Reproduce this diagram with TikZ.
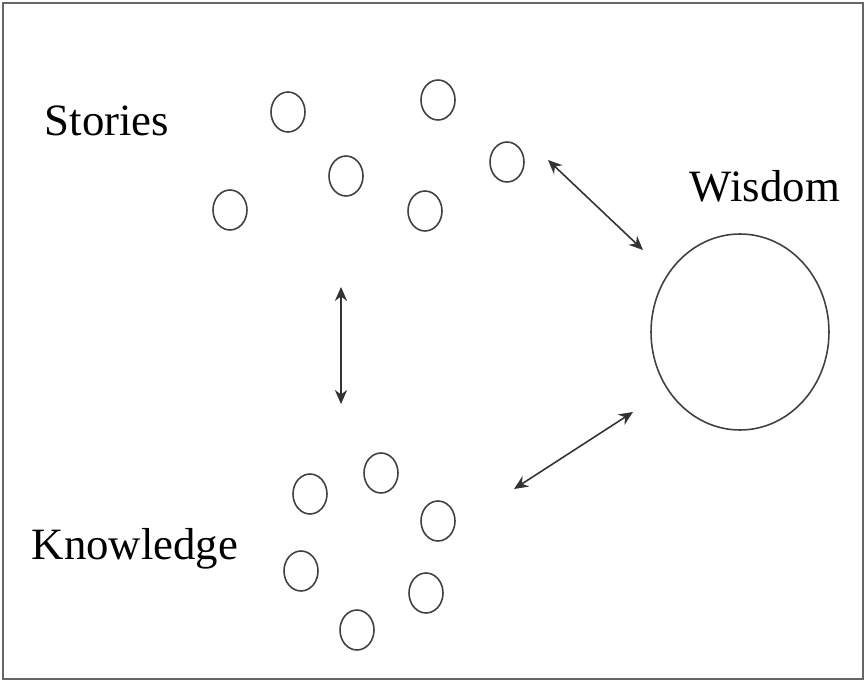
\documentclass[tikz,border=0pt]{standalone}
\usepackage{fontspec}
\setmainfont{Liberation Serif}
\usetikzlibrary{shapes.geometric,arrows.meta}
\begin{document}
\begin{tikzpicture}[x=0.02cm, y=-0.02cm,
    dot/.style={draw=black!75, ellipse, line width=0.9pt, inner sep=0pt, minimum width=0.68cm, minimum height=0.8cm},
    lbl/.style={font=\fontsize{25.5}{28}\selectfont},
    link/.style={black!80, line width=0.9pt, {Stealth[length=8pt,width=7pt]}-{Stealth[length=8pt,width=7pt]}}]
    \useasboundingbox (0,0) rectangle (866,682);
    \draw[black!60, line width=1.2pt] (3,3) rectangle (863,679);
    % stories
    \node[dot] (s1) at (288,112) {};
    \node[dot] (s2) at (438,100) {};
    \node[dot] (s3) at (507,162) {};
    \node[dot] (s4) at (346,176) {};
    \node[dot] (s5) at (230,210) {};
    \node[dot] (s6) at (425,211) {};
    % knowledge
    \node[dot] (k1) at (381,473) {};
    \node[dot] (k2) at (310,494) {};
    \node[dot] (k3) at (438,521) {};
    \node[dot] (k4) at (301,571) {};
    \node[dot] (k5) at (426,593) {};
    \node[dot] (k6) at (357,630) {};
    % wisdom
    \node[draw=black!75, ellipse, line width=0.9pt, minimum width=3.56cm, minimum height=3.92cm] (wis) at (740,332) {};
    \node[lbl] (stories) at (107,121) {Stories};
    \node[lbl] (wisdom) at (765,186) {Wisdom};
    \node[lbl] (knowledge) at (135,549) {Knowledge};
    \coordinate (a1) at (548,160);
    \coordinate (a2) at (643,250);
    \coordinate (b1) at (341,287);
    \coordinate (b2) at (341,404);
    \coordinate (c1) at (514,489);
    \coordinate (c2) at (633,412);
    \draw[link] (a1) -- (a2);
    \draw[link] (b1) -- (b2);
    \draw[link] (c1) -- (c2);
\end{tikzpicture}
\end{document}
